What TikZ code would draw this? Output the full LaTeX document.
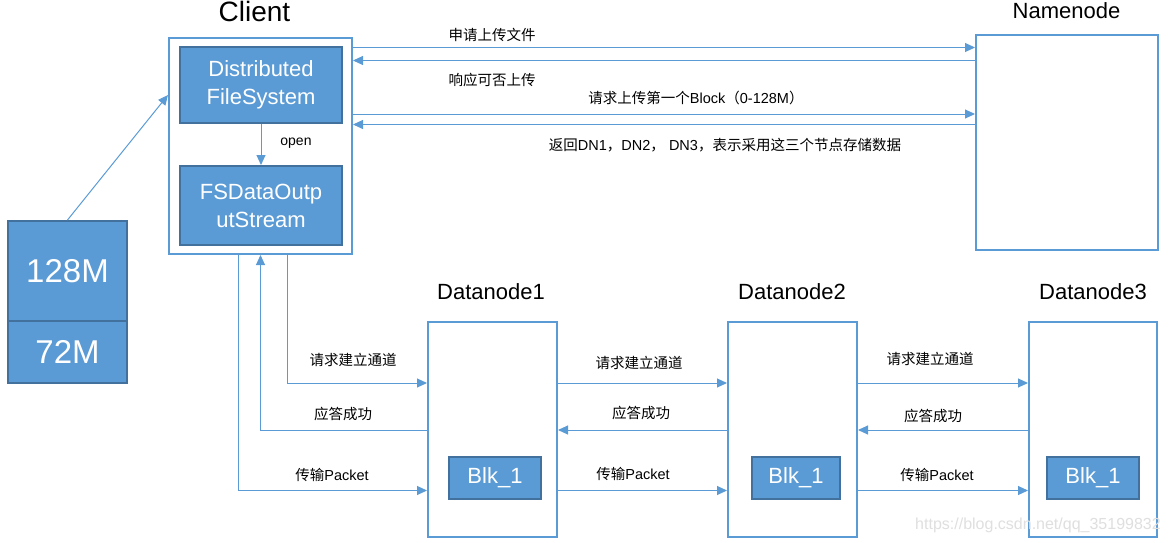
\documentclass[tikz,border=0pt]{standalone}
\usepackage{fontspec}
\setmainfont{Liberation Sans}
\newfontfamily\cjk{Noto Sans CJK SC}
\newcommand{\zh}[1]{{\cjk #1}}
\usetikzlibrary{arrows.meta,positioning}
\definecolor{lblue}{HTML}{5B9BD5}
\definecolor{dblue}{HTML}{41719C}
\tikzset{
  frame/.style={draw=lblue,line width=2pt,fill=white,inner sep=0pt},
  fbox/.style={draw=dblue,line width=2pt,fill=lblue,text=white,inner sep=0pt,align=center},
  arr/.style={draw=lblue,line width=1pt,-{Triangle[length=10pt,width=9pt]}},
  lbl/.style={font=\fontsize{14.5}{16}\selectfont,inner sep=0pt},
  ttl/.style={font=\fontsize{22}{26}\selectfont,inner sep=0pt},
}
\begin{document}
\begin{tikzpicture}[x=1pt,y=-1pt]
\useasboundingbox (0,0) rectangle (1170,543);
% boxes
\node[frame,minimum width=183pt,minimum height=216pt] (client) at (260.5,146) {};
\node[fbox,minimum width=162pt,minimum height=76pt,font=\fontsize{22}{28}\selectfont] (dfs) at (261,85) {Distributed\\FileSystem};
\node[fbox,minimum width=162pt,minimum height=79pt,font=\fontsize{22}{28}\selectfont] (fsd) at (261,205.5) {FSDataOutp\\utStream};
\node[fbox,minimum width=119pt,minimum height=100pt,font=\fontsize{33}{36}\selectfont] (b128) at (67.5,271) {128M};
\node[fbox,minimum width=119pt,minimum height=62pt,font=\fontsize{33}{36}\selectfont] (b72) at (67.5,352) {72M};
\node[frame,minimum width=182pt,minimum height=215pt] (nn) at (1067,142.5) {};
\node[frame,minimum width=129pt,minimum height=215pt] (dn1) at (492.5,429.5) {};
\node[frame,minimum width=129pt,minimum height=215pt] (dn2) at (792.5,429.5) {};
\node[frame,minimum width=128pt,minimum height=215pt] (dn3) at (1093,429.5) {};
\node[fbox,minimum width=92pt,minimum height=42pt,font=\fontsize{22}{26}\selectfont] (blk1) at (495,478) {Blk\_1};
\node[fbox,minimum width=88pt,minimum height=42pt,font=\fontsize{22}{26}\selectfont] (blk2) at (796,478) {Blk\_1};
\node[fbox,minimum width=92pt,minimum height=42pt,font=\fontsize{22}{26}\selectfont] (blk3) at (1093,478) {Blk\_1};
% titles
\node[ttl,font=\fontsize{28}{30}\selectfont] (tclient) at (254.5,11) {Client};
\node[ttl] (tnn) at (1066.5,11) {Namenode};
\node[ttl] (tdn1) at (491,292) {Datanode1};
\node[ttl] (tdn2) at (792,292) {Datanode2};
\node[ttl] (tdn3) at (1093,292) {Datanode3};
% connectors
\draw[arr] (b128.north) -- ([yshift=51pt]client.west);
\draw[arr] (dfs.south) -- (fsd.north);
\node[inner sep=0pt,font=\fontsize{14}{16}\selectfont] (lopen) at (296,143) {open};
\draw[arr] ([yshift=98.5pt]client.east) -- ([yshift=95pt]nn.west);
\draw[arr] ([yshift=82pt]nn.west) -- ([yshift=85.5pt]client.east);
\draw[arr] ([yshift=32pt]client.east) -- ([yshift=28.5pt]nn.west);
\draw[arr] ([yshift=18pt]nn.west) -- ([yshift=21.5pt]client.east);
\node[lbl] (l1) at (492,35) {\zh{申请上传文件}};
\node[lbl] (l2) at (492,80) {\zh{响应可否上传}};
\node[lbl] (l3) at (696,98) {\zh{请求上传第一个}Block\zh{（}0-128M\zh{）}};
\node[lbl] (l4) at (725,145) {\zh{返回}DN1\zh{，}DN2\zh{，} DN3\zh{，表示采用这三个节点存储数据}};
% client - dn1
\draw[arr] ([xshift=26.5pt]client.south) |- ([yshift=46.5pt]dn1.west);
\draw[arr] ([yshift=-0.5pt]dn1.west) -| (client.south);
\draw[arr] ([xshift=-22.5pt]client.south) |- ([yshift=-61pt]dn1.west);
\node[lbl] (c1) at (353,360) {\zh{请求建立通道}};
\node[lbl] (c2) at (343,414) {\zh{应答成功}};
\node[lbl] (c3) at (332,475) {\zh{传输}Packet};
% dn1 - dn2
\draw[arr] ([yshift=46.5pt]dn1.east) -- ([yshift=46.5pt]dn2.west);
\draw[arr] ([yshift=-0.5pt]dn2.west) -- ([yshift=-0.5pt]dn1.east);
\draw[arr] ([yshift=-61pt]dn1.east) -- ([yshift=-61pt]dn2.west);
\node[lbl] (d1) at (639,363) {\zh{请求建立通道}};
\node[lbl] (d2) at (641,413) {\zh{应答成功}};
\node[lbl] (d3) at (633,474) {\zh{传输}Packet};
% dn2 - dn3
\draw[arr] ([yshift=46.5pt]dn2.east) -- ([yshift=46.5pt]dn3.west);
\draw[arr] ([yshift=-0.5pt]dn3.west) -- ([yshift=-0.5pt]dn2.east);
\draw[arr] ([yshift=-61pt]dn2.east) -- ([yshift=-61pt]dn3.west);
\node[lbl] (e1) at (930,359) {\zh{请求建立通道}};
\node[lbl] (e2) at (933,416) {\zh{应答成功}};
\node[lbl] (e3) at (937,475) {\zh{传输}Packet};
% watermark
\node[inner sep=0pt,text=gray!25,font=\fontsize{16}{18}\selectfont] (wm) at (1038,525) {https://blog.csdn.net/qq\_35199832};
\end{tikzpicture}
\end{document}
